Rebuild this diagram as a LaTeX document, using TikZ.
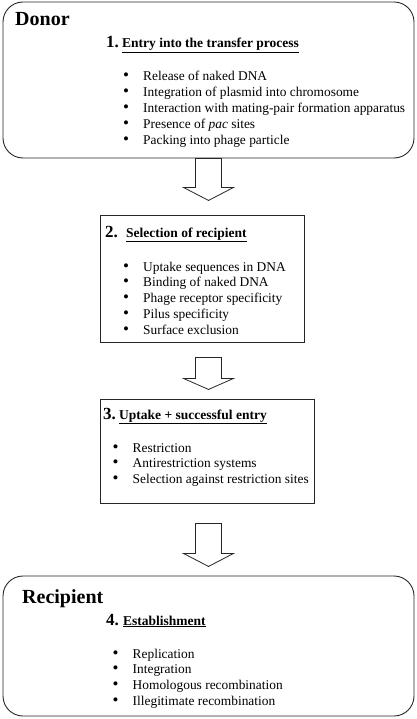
\documentclass[tikz,border=0pt]{standalone}
\usepackage{fontspec}
\setmainfont{Liberation Serif}
\usetikzlibrary{positioning}
\usetikzlibrary{calc}
\newcommand{\itembullet}{\makebox[4.7pt][c]{\fontsize{17}{15.8}\selectfont\textbullet}}

\begin{document}
\begin{tikzpicture}[
		x=1pt, y=-1pt,
		roundbox/.style={draw=black!85, line width=0.9pt, rounded corners=20pt, inner sep=0pt},
		stagebox/.style={draw=black!85, line width=0.9pt, inner sep=0pt},
		blockarrow/.style={draw=black!85, line width=0.8pt, fill=white},
		bigtitle/.style={anchor=base west, inner sep=0pt, font=\fontsize{20}{24}\selectfont\bfseries},
		num/.style={anchor=base west, inner sep=0pt, font=\fontsize{17}{20}\selectfont\bfseries},
		heading/.style={anchor=base west, inner sep=0pt, font=\fontsize{13.5}{16}\selectfont\bfseries},
		items/.style={anchor=base west, inner sep=0pt, font=\fontsize{13.4}{15.8}\selectfont}
		]
		\useasboundingbox (0,0) rectangle (416,719);
		
		% Boxes
		\node[roundbox, minimum width=411pt, minimum height=156pt] (donor) at (208.5,80) {};
		\node[stagebox, minimum width=204pt, minimum height=127pt] (select) at (202,278.5) {};
		\node[stagebox, minimum width=214pt, minimum height=104pt] (uptake) at (207,451) {};
		\node[roundbox, minimum width=411pt, minimum height=140pt] (recip) at (208.5,646) {};
		
		% Donor
		\node[bigtitle] (donorlbl) at (15,26) {Donor};
		\node[num] (n1) at (106,48) {1.};
		\node[heading] (h1) at (122,48) {\underline{Entry into the transfer process}};
		\node[items] (l1) at (123.5,81) {\begin{tabular}[t]{@{}l@{\hspace{14.8pt}}l@{}}
			\itembullet & Release of naked DNA\\
			\itembullet & Integration of plasmid into chromosome\\
			\itembullet & Interaction with mating-pair formation apparatus\\
			\itembullet & Presence of \textit{pac} sites\\
			\itembullet & Packing into phage particle
		\end{tabular}};
		
		% Selection of recipient
		\node[num] (n2) at (105,237) {2.};
		\node[heading] (h2) at (126,237) {\underline{Selection of recipient}};
		\node[items] (l2) at (123.5,271) {\begin{tabular}[t]{@{}l@{\hspace{14.8pt}}l@{}}
			\itembullet & Uptake sequences in DNA\\
			\itembullet & Binding of naked DNA\\
			\itembullet & Phage receptor specificity\\
			\itembullet & Pilus specificity\\
			\itembullet & Surface exclusion
		\end{tabular}};
		
		% Uptake
		\node[num] (n3) at (103,419) {3.};
		\node[heading] (h3) at (119,419) {\underline{Uptake + successful entry}};
		\node[items] (l3) at (113,452) {\begin{tabular}[t]{@{}l@{\hspace{14.8pt}}l@{}}
			\itembullet & Restriction\\
			\itembullet & Antirestriction systems\\
			\itembullet & Selection against restriction sites
		\end{tabular}};
		
		% Recipient
		\node[bigtitle] (reciplbl) at (22,603) {Recipient};
		\node[num] (n4) at (106,625) {4.};
		\node[heading] (h4) at (123,625) {\underline{Establishment}};
		\node[items] (l4) at (113,658) {\begin{tabular}[t]{@{}l@{\hspace{14.8pt}}l@{}}
			\itembullet & Replication\\
			\itembullet & Integration\\
			\itembullet & Homologous recombination\\
			\itembullet & Illegitimate recombination
		\end{tabular}};
		
		% Block arrows between the stages
		\draw[blockarrow] (donor.south) ++(-13,0) -- ++(26,0) -- ++(0,29) -- ++(12,0) -- ++(-25,13) -- ++(-25,-13) -- ++(12,0) -- cycle;
		\draw[blockarrow] (donor.south |- select.south) ++(-13,15) -- ++(26,0) -- ++(0,21) -- ++(12,0) -- ++(-25,11) -- ++(-25,-11) -- ++(12,0) -- cycle;
		\draw[blockarrow] (donor.south |- uptake.south) ++(-13,20) -- ++(26,0) -- ++(0,30) -- ++(12,0) -- ++(-25,13) -- ++(-25,-13) -- ++(12,0) -- cycle;
		
	\end{tikzpicture}
\end{document}
